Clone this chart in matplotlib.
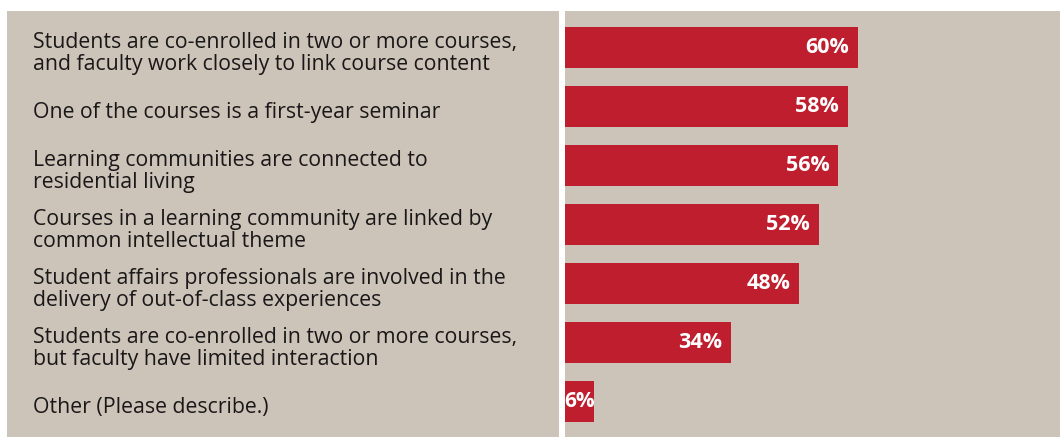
"""
horizontal bar chart: learning community features, percent of institutions
"""

import matplotlib.pyplot as plt
import matplotlib.transforms as mtransforms
from matplotlib.patches import Rectangle

labels = [
    "Students are co-enrolled in two or more courses,\nand faculty work closely to link course content",
    "One of the courses is a first-year seminar",
    "Learning communities are connected to\nresidential living",
    "Courses in a learning community are linked by\ncommon intellectual theme",
    "Student affairs professionals are involved in the\ndelivery of out-of-class experiences",
    "Students are co-enrolled in two or more courses,\nbut faculty have limited interaction",
    "Other (Please describe.)",
]
values = [60, 58, 56, 52, 48, 34, 6]

BEIGE = '#ccc4b9'
RED = '#be1e2d'
TEXT = '#1a1718'

W, H = 1060, 437
fig = plt.figure(figsize=(W / 100, H / 100), dpi=100)
fig.patch.set_facecolor('white')

# left label panel
fig.patches.append(Rectangle((7 / W, 0), (559 - 7) / W, (H - 11) / H,
                             transform=fig.transFigure, facecolor=BEIGE,
                             edgecolor='none', zorder=-1))

# bar panel
ax = fig.add_axes([565 / W, 0, (W - 565) / W, (H - 11) / H])
ax.set_facecolor(BEIGE)
for s in ax.spines.values():
    s.set_visible(False)
ax.set_xticks([])
ax.set_yticks([])

pos = list(range(len(values)))
ax.barh(pos, values, height=0.695, color=RED, zorder=2)
ax.set_xlim(0, 101.4)
ax.set_ylim(6.602, -0.619)

# value labels inside the bars
for p, v in zip(pos, values):
    if v < 10:
        ax.text(v / 2, p, f"{v}%", ha='center', va='center', color='white',
                fontsize=15, fontweight='bold', family='Open Sans', zorder=3)
    else:
        ax.annotate(f"{v}%", (v, p), xytext=(-9, 0), textcoords='offset pixels',
                    ha='right', va='center', color='white', fontsize=15.5,
                    fontweight='bold', family='Open Sans', zorder=3)

# category labels on the left panel
trans = mtransforms.blended_transform_factory(fig.transFigure, ax.transData)
for p, lab in zip(pos, labels):
    fig.text(33 / W, p + 0.1, lab, transform=trans, ha='left', va='center',
             fontsize=15.3, color=TEXT, family='Open Sans', linespacing=1.05)

plt.savefig('out.png', dpi=100)
